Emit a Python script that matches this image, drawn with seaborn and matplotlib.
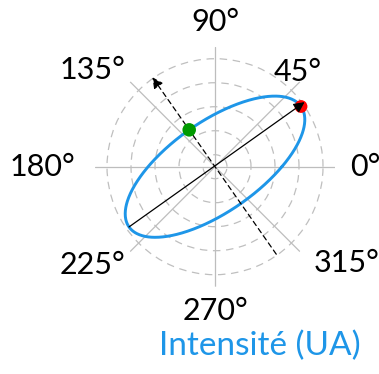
import numpy as np
import matplotlib
matplotlib.use("Agg")
import matplotlib.pyplot as plt
import seaborn as sns

# Polarisation ellipse parameters (normalised intensity, degrees)
major_axis = 0.875
minor_axis = 0.375
orientation_deg = 35.0

# Arrow ends: (angle in degrees, radius)
major_arrow_start = (215.0, 0.875)
major_arrow_end = (35.8, 0.92)
minor_arrow_start = (305.0, 0.89)
minor_arrow_end = (125.0, 0.91)

# Marked points on the ellipse
max_point = (35.0, 0.875)
min_point = (125.0, 0.375)

# Angular and radial grid
theta_ticks = [0, 45, 90, 135, 180, 225, 270, 315]
theta_labels = ["0°", "45°", "90°", "135°", "180°", "225°", "270°", "315°"]
label_positions = [(0, 1.25), (49, 1.05), (90, 1.21), (141.7, 1.305),
                   (180, 1.44), (218.6, 1.31), (270, 1.2), (324, 1.36)]
r_ticks = [0.1, 0.3, 0.5, 0.7, 0.9]

blue = "#1E96E8"

sns.set_theme(style="white")
plt.rcParams["font.family"] = ["Lato", "DejaVu Sans"]

fig = plt.figure(figsize=(3.79, 3.74), dpi=100)
ax = fig.add_axes([0.2507, 0.2334, 0.6332, 0.6417], projection="polar")
ax.set_facecolor("none")
ax.set_ylim(0, 1.0)
ax.spines["polar"].set_visible(False)

ax.set_thetagrids(theta_ticks, labels=[""] * len(theta_ticks))
ax.set_rgrids(r_ticks, labels=[""] * len(r_ticks))
ax.xaxis.grid(True, color="#bdbdbd", linewidth=0.9, linestyle="-")
ax.yaxis.grid(True, color="#bfbfbf", linewidth=0.9, linestyle=(0, (6, 4.5)))
ax.tick_params(pad=0)

# Ellipse traced in polar form
th = np.linspace(0, 2 * np.pi, 721)
phi = np.deg2rad(orientation_deg)
a, b = major_axis, minor_axis
r = a * b / np.sqrt((b * np.cos(th - phi)) ** 2 + (a * np.sin(th - phi)) ** 2)
sns.lineplot(x=th, y=r, ax=ax, sort=False, color=blue, linewidth=2.1,
             estimator=None, zorder=3)

# Points of maximum and minimum intensity
sns.scatterplot(x=[np.deg2rad(max_point[0])], y=[max_point[1]], ax=ax,
                color="#ff0000", s=85, edgecolor="none", zorder=4)
sns.scatterplot(x=[np.deg2rad(min_point[0])], y=[min_point[1]], ax=ax,
                color="#009a00", s=95, edgecolor="none", zorder=6)

# Major and minor axis arrows
def polar_arrow(start, end, style):
    ax.annotate("", xy=(np.deg2rad(end[0]), end[1]),
                xytext=(np.deg2rad(start[0]), start[1]),
                arrowprops=dict(arrowstyle="-|>", color="black", lw=0.9,
                                linestyle=style, mutation_scale=16,
                                shrinkA=0, shrinkB=0),
                zorder=5)

polar_arrow(major_arrow_start, major_arrow_end, "-")
polar_arrow(minor_arrow_start, minor_arrow_end, (0, (4, 3)))

for (ang, rad), lab in zip(label_positions, theta_labels):
    ax.text(np.deg2rad(ang), rad, lab, ha="center", va="center",
            fontsize=22, color="black", clip_on=False)

fig.text(0.686, 1 - 346 / 374, "Intensité (UA)", ha="center", va="center",
         fontsize=24, color=blue)

fig.savefig("out.png", dpi=100, facecolor="white")
